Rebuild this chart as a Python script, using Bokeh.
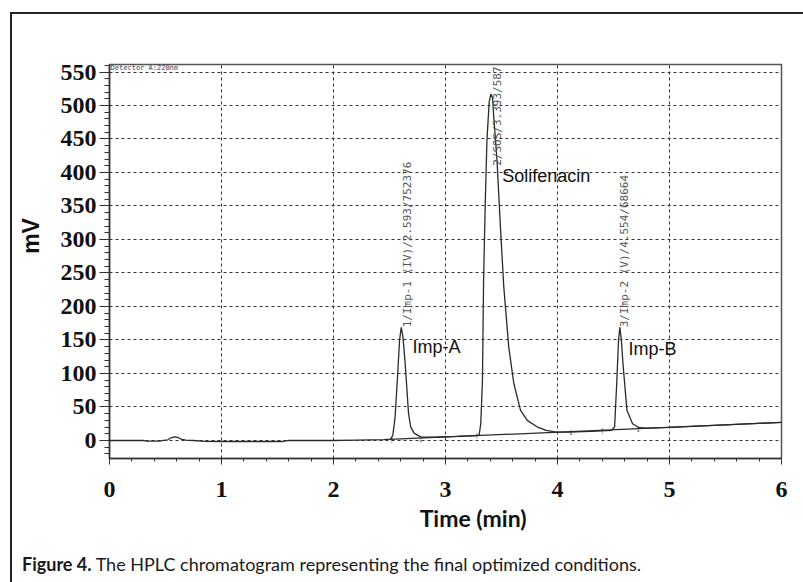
from math import pi
from bokeh.plotting import figure
from bokeh.layouts import column
from bokeh.models import Range1d, FixedTicker, Label, ColumnDataSource, Div
from bokeh.embed import file_html
from bokeh.resources import INLINE

# ---------------- data ----------------
time_min = [0.00, 0.30, 0.33, 0.45, 0.48, 0.52, 0.55, 0.58, 0.61, 0.64, 0.68, 0.75,
            0.85, 1.00, 1.55, 1.60, 2.00, 2.20, 2.45, 2.51,
            2.53, 2.55, 2.57, 2.59, 2.605, 2.62, 2.64, 2.67, 2.69, 2.72, 2.78, 2.90, 3.10, 3.28,
            3.30, 3.315, 3.33, 3.34, 3.355, 3.37, 3.39, 3.405, 3.42, 3.43, 3.46, 3.49, 3.52,
            3.565, 3.61, 3.67, 3.73, 3.82, 3.90, 3.99, 4.10, 4.30, 4.48,
            4.51, 4.53, 4.545, 4.557, 4.57, 4.585, 4.62, 4.67, 4.73, 4.80, 5.00, 5.50, 6.00]
signal_mv = [0.0, 0.0, -1.0, -1.0, 0.0, 1.0, 4.0, 5.5, 4.5, 2.0, 0.5, 0.0,
             -1.2, -1.5, -1.5, 0.0, 0.0, 0.5, 1.2, 2.0,
             8.0, 35.0, 90.0, 150.0, 169.0, 155.0, 115.0, 40.0, 20.0, 11.0, 5.0, 4.8, 6.0, 7.2,
             8.0, 25.0, 90.0, 239.0, 354.0, 448.0, 505.0, 517.0, 512.0, 485.0, 418.0, 320.0, 230.0,
             139.0, 85.0, 45.0, 30.0, 20.0, 15.0, 12.5, 12.5, 13.5, 15.0,
             20.0, 90.0, 150.0, 169.0, 150.0, 114.0, 45.0, 25.0, 19.0, 18.5, 19.7, 23.4, 27.0]

baseline_t = [2.50, 6.00]
baseline_mv = [1.5, 27.0]

event_t = [2.52, 2.78, 3.28, 4.12, 4.40, 4.72]
event_mv = [1.6, 3.5, 7.2, 12.7, 14.8, 17.6]
event_sym = ["\u2191", "\u2193", "\u2191", "\u2193", "\u2191", "\u2193"]

peak_names = ["Imp-A", "Solifenacin", "Imp-B"]
peak_ids = ["1/Imp-1 (IV)/2.593/752376", "2/SOS/3.393/587", "3/Imp-2 (V)/4.554/68664"]

x_ticks = [0, 1, 2, 3, 4, 5, 6]
x_minor = [i / 5 for i in range(0, 31)]
y_ticks = [0, 50, 100, 150, 200, 250, 300, 350, 400, 450, 500, 550]
y_minor = list(range(-20, 561, 10))

detector_text = "Detector A:220nm"
x_title = "Time (min)"
y_title = "mV"
caption_bold = "Figure 4."
caption_rest = "The HPLC chromatogram representing the final optimized conditions."

NARROW = "Lato"
NB = "\u00a0"

# ---------------- main chart ----------------
p = figure(width=783, height=531, output_backend="svg", toolbar_location=None,
           x_range=Range1d(0, 6), y_range=Range1d(-26.9, 561.2),
           min_border_left=97, min_border_right=14, min_border_top=50, min_border_bottom=87)
p.background_fill_color = "white"
p.border_fill_color = "white"
p.outline_line_color = "#555555"
p.outline_line_width = 1.5

for ax in (p.xaxis[0], p.yaxis[0]):
    ax.major_label_text_font = "Liberation Serif"
    ax.major_label_text_font_style = "bold"
    ax.major_label_text_font_size = "24px"
    ax.major_label_text_color = "#111111"
    ax.axis_line_color = "#333333"
    ax.axis_line_width = 1.5
    ax.major_tick_line_color = "#333333"
    ax.minor_tick_line_color = "#333333"
    ax.major_tick_in = 0
    ax.minor_tick_in = 0
    ax.axis_label_text_font_style = "bold"
    ax.axis_label_text_font_size = "23px"
    ax.axis_label_text_color = "#111111"

p.xaxis.ticker = FixedTicker(ticks=x_ticks, minor_ticks=x_minor)
p.yaxis.ticker = FixedTicker(ticks=y_ticks, minor_ticks=y_minor)
p.xaxis.major_tick_out = 6
p.xaxis.minor_tick_out = 3
p.xaxis.major_label_standoff = 17
p.yaxis.major_tick_out = 10
p.yaxis.minor_tick_out = 5
p.yaxis.major_label_standoff = 3

p.yaxis.axis_label = NB * 8 + y_title
p.yaxis.axis_label_text_font = "Liberation Sans"
p.yaxis.axis_label_standoff = 14
p.xaxis.axis_label = NB * 10 + x_title
p.xaxis.axis_label_text_font = NARROW
p.xaxis.axis_label_standoff = 4

p.xgrid.ticker = FixedTicker(ticks=x_ticks)
p.ygrid.ticker = FixedTicker(ticks=y_ticks)
for g in (p.xgrid[0], p.ygrid[0]):
    g.grid_line_color = "#333333"
    g.grid_line_dash = "3 3"
    g.grid_line_width = 1

# trace and baseline
src = ColumnDataSource(dict(t=time_min, mv=signal_mv))
p.line("t", "mv", source=src, line_color="#2a2a2a", line_width=1.3)
p.line(baseline_t, baseline_mv, line_color="#2a2a2a", line_width=1.2)
p.text(event_t, event_mv, text=event_sym, text_font_size="10px", text_align="center",
       text_baseline="middle", text_color="#333333")

# peak names
name_pos = [(2.705, 140), (3.506, 395), (4.634, 137)]
for name, (xx, yy) in zip(peak_names, name_pos):
    p.add_layout(Label(x=xx, y=yy, text=name, text_font="Liberation Sans",
                       text_font_size="18px", text_baseline="middle", text_color="#111111"))

# rotated peak ids
id_pos = [(2.60, 169), (3.41, 410), (4.536, 169)]
for pid, (xx, yy) in zip(peak_ids, id_pos):
    p.add_layout(Label(x=xx, y=yy, text=pid, angle=pi / 2, text_font="DejaVu Sans Mono",
                       text_font_size="11px", text_baseline="top", text_align="left",
                       text_color="#555555"))

p.add_layout(Label(x=0.01, y=550, text=detector_text, text_font="DejaVu Sans Mono",
                   text_font_size="7px", text_baseline="bottom", text_color="#444444"))

# ---------------- caption ----------------
caption_html = ('<div style="padding:4px 0 0 5px;font-family:Lato,sans-serif;font-size:18px;'
                'line-height:20px;color:#1a1a1a;white-space:nowrap;">'
                '<b>%s</b> %s</div>' % (caption_bold, caption_rest))
cap = Div(text=caption_html, width=783, height=36)

layout = column(p, cap, margin=(12, 0, 0, 10),
                styles={"border-top": "2px solid #222222", "border-left": "2px solid #222222"})

open("out.html", "w").write(file_html(layout, INLINE))
